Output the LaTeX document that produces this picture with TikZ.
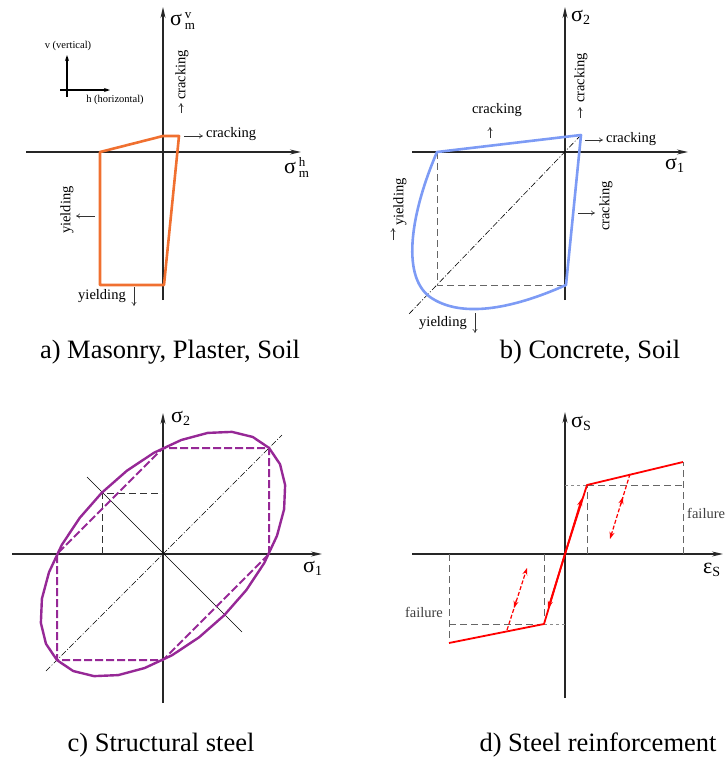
\documentclass[tikz,border=0pt]{standalone}
\usepackage{fontspec}
\setmainfont{Liberation Serif}
\usetikzlibrary{arrows.meta}
\definecolor{masonry}{RGB}{240,112,48}
\definecolor{concrete}{RGB}{125,155,245}
\definecolor{steel}{RGB}{150,40,150}
\newcommand{\sigsub}[1]{σ\raisebox{-0.3ex}{\fontsize{14}{14}\selectfont #1}}
\begin{document}
\begin{tikzpicture}[x=1pt, y=-1pt, line join=round,
  every node/.append style={inner sep=1pt, font=\fontsize{14.5}{16}\selectfont},
  axis/.style={line width=1.4pt, draw=black!85, -{Stealth[length=11pt,width=5pt]}},
  hint/.style={line width=0.6pt, draw=black!80, -{To[length=4pt,width=5pt]}},
  symbol/.style={font=\fontsize{22}{22}\selectfont, anchor=west, inner sep=0pt},
  index/.style={font=\fontsize{13}{13}\selectfont, inner sep=0pt},
  caption/.style={font=\fontsize{26.5}{28}\selectfont},
  guide/.style={line width=1pt, draw=black!60, dash pattern=on 7pt off 4pt},
  diag/.style={line width=0.6pt, draw=black, dash pattern=on 6pt off 2pt on 1pt off 2pt}]
\useasboundingbox (0,0) rectangle (725,761);

% a) masonry
\draw[axis] (26,152) -- (301,152);  \node[symbol] (sah) at (284,168) {σ};
\node[index, anchor=south west] (sahup) at ([xshift=2.5pt,yshift=1.5pt]sah.east) {h};
\node[index, anchor=north west] (sahdn) at ([xshift=2.5pt,yshift=-3pt]sah.east) {m};
\draw[axis] (163,300) -- (163,7);   \node[symbol] (sav) at (170,20) {σ};
\node[index, anchor=south west] (savup) at ([xshift=2.5pt,yshift=1.5pt]sav.east) {v};
\node[index, anchor=north west] (savdn) at ([xshift=2.5pt,yshift=-3pt]sav.east) {m};
\draw[masonry, line width=2.6pt] (100,152) -- (163,136) -- (179,136) -- (164,285) -- (100,285) -- cycle;
\draw[line width=1.2pt, -{Stealth[length=6pt,width=4pt]}] (67,97) -- (67,55);
\draw[line width=1.2pt, -{Stealth[length=6pt,width=4pt]}] (60,90) -- (110,90);
\node[font=\fontsize{10.5}{12}\selectfont] (vert) at (68,46) {v (vertical)};
\node[font=\fontsize{10.5}{12}\selectfont] (horz) at (115,100) {h (horizontal)};
\node[rotate=90] (acv) at (182,75) {cracking};   \draw[hint] (181,113) -- (181,103);
\node[anchor=west] (ach) at (205,134) {cracking}; \draw[hint] (184,136) -- (203,136);
\node[rotate=90] (ayh) at (67,210) {yielding};   \draw[hint] (95,216) -- (76,216);
\node (ayv) at (102,296) {yielding};             \draw[hint] (134,287) -- (134,306);
\node[caption] (capa) at (170,352) {a) Masonry, Plaster, Soil};

% b) concrete
\draw[axis] (412,152) -- (688,152); \node[symbol] (sb1) at (665,165) {\sigsub{1}};
\draw[axis] (565,300) -- (565,7);   \node[symbol] (sb2) at (571,17) {\sigsub{2}};
\draw[guide] (437,152) -- (437,285) -- (566,285);
\draw[diag] (581,135) -- (408,315);
\draw[concrete, line width=2.6pt] (437,152) -- (581,135) -- (566,285)
  .. controls (510,310) and (460,318) .. (430,297)
  .. controls (400,275) and (412,210) .. (437,152) -- cycle;
\node (bct) at (497,110) {cracking};             \draw[hint] (490,138) -- (490,127);
\node[rotate=90] (bcv) at (581,78) {cracking};   \draw[hint] (580,118) -- (580,107);
\node[anchor=west] (bch) at (605,139) {cracking}; \draw[hint] (585,140) -- (603,140);
\node[rotate=90] (bcr) at (606,206) {cracking};  \draw[hint] (578,213) -- (595,213);
\node[rotate=90] (byl) at (400,202) {yielding};  \draw[hint] (393,240) -- (393,228);
\node (byb) at (443,323) {yielding};             \draw[hint] (475,313) -- (475,333);
\node[caption] (capb) at (590,352) {b) Concrete, Soil};

% c) structural steel
\begin{scope}[shift={(163,554)}, yscale=-1]
  \draw[axis] (-151,0) -- (159,0);
  \draw[axis] (0,-149) -- (0,141);
  \draw[diag] (-117,-117) -- (119,119);
  \draw[line width=0.6pt] (-76,77) -- (79,-78);
  \draw[guide, draw=black!80] (-61,0) -- (-61,61) -- (0,61);
  \draw[steel, line width=2pt, dash pattern=on 8pt off 3pt] (106,0) -- (106,106) -- (0,106) -- (-106,0) -- (-106,-106) -- (0,-106) -- cycle;
  \draw[steel, line width=2.4pt] plot[domain=0:360, samples=29, variable=\t]
    ({(150*cos(\t)-86.6*sin(\t))/1.4142}, {(150*cos(\t)+86.6*sin(\t))/1.4142}) -- cycle;
\end{scope}
\node[symbol] (sc1) at (303,568) {\sigsub{1}};
\node[symbol] (sc2) at (171,418) {\sigsub{2}};
\node[caption] (capc) at (161,745) {c) Structural steel};

% d) steel reinforcement
\begin{scope}[shift={(565,554)}, yscale=-1]
  \draw[axis] (-153,0) -- (158,0);
  \draw[axis] (0,-144) -- (0,142);
  \draw[guide, draw=black!45, dash pattern=on 3pt off 3pt] (0,69) -- (22,69) (-21,-70) -- (0,-70);
  \draw[guide] (22,69) -- (118,69) (22,0) -- (22,69) (118,0) -- (118,92);
  \draw[guide] (-116,-70) -- (-21,-70) (-21,0) -- (-21,-70) (-116,0) -- (-116,-89);
  \draw[red, line width=1.8pt] (118,92) -- (22,69) -- (0,0) -- (-21,-70) -- (-116,-89);
  \draw[red, line width=1.8pt, -{Stealth[length=8pt,width=5pt]}] (0,0) -- (17,56);
  \draw[red, line width=1.8pt, -{Stealth[length=8pt,width=5pt]}] (0,0) -- (-17,-55);
  \draw[red, line width=1.2pt, dash pattern=on 4pt off 2pt, -{Stealth[length=7pt,width=5pt]}] (65,80) -- (45,15);
  \draw[red, line width=1.2pt, -{Stealth[length=7pt,width=5pt]}] (55.5,49) -- (58,57);
  \draw[red, line width=1.2pt, dash pattern=on 4pt off 2pt, -{Stealth[length=7pt,width=5pt]}] (-58,-76) -- (-38,-14);
  \draw[red, line width=1.2pt, -{Stealth[length=7pt,width=5pt]}] (-48.5,-46) -- (-51,-54);
\end{scope}
\node[symbol] (sds) at (571,423) {\sigsub{S}};
\node[symbol] (sde) at (703,570) {ε\raisebox{-0.3ex}{\fontsize{14}{14}\selectfont S}};
\node[anchor=west, text=black!75] (dfr) at (686,513) {failure};
\node[text=black!75] (dfl) at (424,612) {failure};
\node[caption] (capd) at (598,745) {d) Steel reinforcement};
\end{tikzpicture}
\end{document}
